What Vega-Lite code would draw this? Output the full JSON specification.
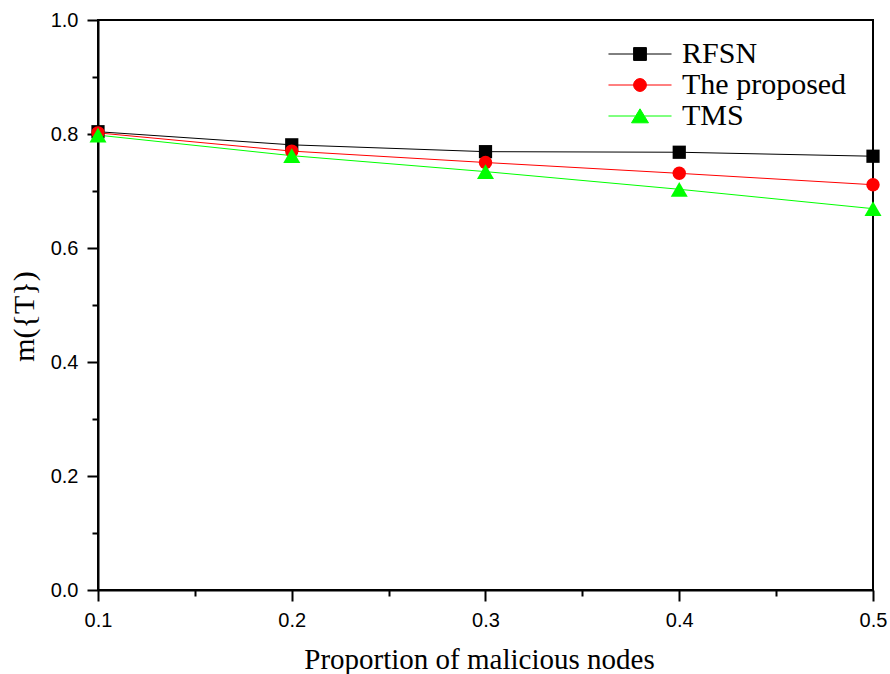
{
  "$schema": "https://vega.github.io/schema/vega-lite/v6.json",
  "width": 775,
  "height": 570,
  "autosize": "none",
  "padding": {"left": 98, "top": 20, "right": 17, "bottom": 84},
  "background": "white",
  "config": {
    "view": {"stroke": "black", "strokeWidth": 2}
  },
  "data": {
    "values": [
      {"x": 0.1, "y": 0.804, "series": "RFSN"},
      {"x": 0.2, "y": 0.781, "series": "RFSN"},
      {"x": 0.3, "y": 0.769, "series": "RFSN"},
      {"x": 0.4, "y": 0.768, "series": "RFSN"},
      {"x": 0.5, "y": 0.761, "series": "RFSN"},
      {"x": 0.1, "y": 0.802, "series": "The proposed"},
      {"x": 0.2, "y": 0.770, "series": "The proposed"},
      {"x": 0.3, "y": 0.750, "series": "The proposed"},
      {"x": 0.4, "y": 0.731, "series": "The proposed"},
      {"x": 0.5, "y": 0.711, "series": "The proposed"},
      {"x": 0.1, "y": 0.798, "series": "TMS"},
      {"x": 0.2, "y": 0.762, "series": "TMS"},
      {"x": 0.3, "y": 0.734, "series": "TMS"},
      {"x": 0.4, "y": 0.703, "series": "TMS"},
      {"x": 0.5, "y": 0.669, "series": "TMS"}
    ]
  },
  "encoding": {
    "x": {
      "field": "x", "type": "quantitative",
      "scale": {"domain": [0.1, 0.5], "nice": false, "zero": false},
      "axis": {
        "title": "Proportion of malicious nodes",
        "titleFont": "Liberation Serif", "titleFontWeight": "normal", "titleColor": "black",
        "titleFontSize": 29,
        "titleX": 381, "titleY": 78, "titleBaseline": "alphabetic",
        "values": [0.1, 0.15, 0.2, 0.25, 0.3, 0.35, 0.4, 0.45, 0.5],
        "labelExpr": "round(datum.value*20)%2==0 ? format(datum.value,'.1f') : ''",
        "tickSize": {"condition": {"test": "round(datum.value*20)%2==0", "value": 11}, "value": 6},
        "tickWidth": 2, "tickColor": "black",
        "domainWidth": 2, "domainColor": "black",
        "labelFont": "Liberation Sans", "labelFontSize": 20, "labelColor": "black",
        "labelPadding": 9,
        "labelFlush": false,
        "labelOverlap": false,
        "grid": false
      }
    },
    "y": {
      "field": "y", "type": "quantitative",
      "scale": {"domain": [0, 1], "nice": false},
      "axis": {
        "title": "m({T})",
        "titleFont": "Liberation Serif", "titleFontWeight": "normal", "titleColor": "black",
        "titleFontSize": 30,
        "titleX": -59, "titleY": 296, "titleBaseline": "bottom", "titleAngle": 270,
        "values": [0, 0.1, 0.2, 0.3, 0.4, 0.5, 0.6, 0.7, 0.8, 0.9, 1.0],
        "labelExpr": "round(datum.value*10)%2==0 ? format(datum.value,'.1f') : ''",
        "tickSize": {"condition": {"test": "round(datum.value*10)%2==0", "value": 11}, "value": 6},
        "tickWidth": 2, "tickColor": "black",
        "domainWidth": 2, "domainColor": "black",
        "labelFont": "Liberation Sans", "labelFontSize": 20, "labelColor": "black",
        "labelPadding": 9,
        "labelFlush": false,
        "labelOverlap": false,
        "grid": false
      }
    }
  },
  "layer": [
    {
      "transform": [{"filter": "datum.series == 'RFSN'"}],
      "mark": {"type": "line", "strokeWidth": 1, "color": "#000000"},
      "encoding": {}
    },
    {
      "transform": [{"filter": "datum.series == 'The proposed'"}],
      "mark": {"type": "line", "strokeWidth": 1, "color": "#ff0000"},
      "encoding": {}
    },
    {
      "transform": [{"filter": "datum.series == 'TMS'"}],
      "mark": {"type": "line", "strokeWidth": 1, "color": "#00ff00"},
      "encoding": {}
    },
    {
      "transform": [{"filter": "datum.series == 'RFSN'"}],
      "mark": {"type": "point", "shape": "square", "filled": true, "color": "#000000", "opacity": 1, "size": 175}
    },
    {
      "transform": [{"filter": "datum.series == 'The proposed'"}],
      "mark": {"type": "point", "shape": "circle", "filled": true, "color": "#ff0000", "opacity": 1, "size": 180}
    },
    {
      "transform": [{"filter": "datum.series == 'TMS'"}],
      "mark": {"type": "point", "shape": "triangle-up", "filled": true, "color": "#00ff00", "opacity": 1, "size": 289}
    },
    {
      "mark": {"type": "point", "filled": true, "opacity": 0, "size": 256, "strokeWidth": 1},
      "encoding": {
        "shape": {
          "field": "series", "type": "nominal",
          "scale": {
            "domain": ["RFSN", "The proposed", "TMS"],
            "range": [
              "M-3.94,0H-0.8M0.8,0H3.94M-0.8,-0.8H0.8V0.8H-0.8Z",
              "M-3.94,0H-0.8M0.8,0H3.94M0.8,0A0.8,0.8,0,1,1,-0.8,0A0.8,0.8,0,1,1,0.8,0Z",
              "M-3.94,0H-0.55M0.55,0H3.94M-1.06,0.85L0,-0.9L1.06,0.85Z"
            ]
          },
          "legend": {
            "title": null,
            "orient": "none",
            "legendX": 527,
            "legendY": 19,
            "padding": 0,
            "labelFont": "Liberation Serif",
            "labelFontSize": 30,
            "labelColor": "black",
            "labelOffset": 27,
            "rowPadding": 1,
            "symbolSize": 256,
            "symbolOpacity": 1,
            "symbolStrokeWidth": 1,
            "labelLimit": 400
          }
        },
        "fill": {
          "field": "series", "type": "nominal",
          "scale": {"domain": ["RFSN", "The proposed", "TMS"], "range": ["#000000", "#ff0000", "#00ff00"]}
        },
        "stroke": {
          "field": "series", "type": "nominal",
          "scale": {"domain": ["RFSN", "The proposed", "TMS"], "range": ["#000000", "#ff0000", "#00ff00"]}
        }
      }
    }
  ]
}
